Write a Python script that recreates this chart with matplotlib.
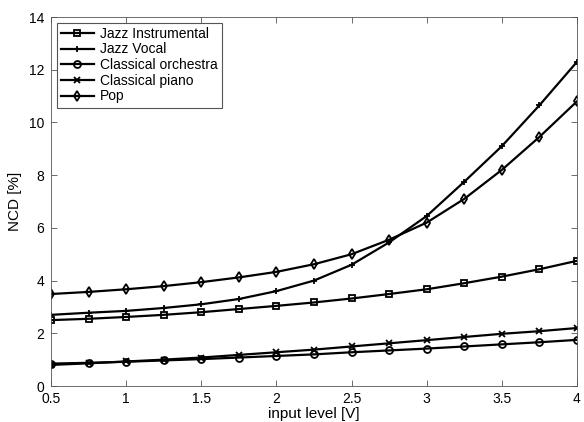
import matplotlib.pyplot as plt
import numpy as np

plt.rcParams['font.family'] = ['Liberation Sans', 'DejaVu Sans']

level = [0.5, 0.75, 1.0, 1.25, 1.5, 1.75, 2.0, 2.25, 2.5, 2.75, 3.0, 3.25, 3.5, 3.75, 4.0]

jazz_instr = [2.50, 2.55, 2.62, 2.70, 2.80, 2.92, 3.04, 3.17, 3.32, 3.49, 3.67, 3.90, 4.15, 4.43, 4.75]
jazz_vocal = [2.70, 2.78, 2.85, 2.96, 3.10, 3.30, 3.60, 4.00, 4.60, 5.45, 6.45, 7.75, 9.10, 10.65, 12.30]
class_orch = [0.85, 0.88, 0.92, 0.97, 1.02, 1.08, 1.14, 1.20, 1.28, 1.35, 1.42, 1.50, 1.58, 1.66, 1.75]
class_piano = [0.80, 0.86, 0.93, 1.00, 1.08, 1.18, 1.28, 1.38, 1.50, 1.62, 1.74, 1.86, 1.98, 2.08, 2.20]
pop = [3.49, 3.57, 3.67, 3.79, 3.94, 4.12, 4.33, 4.62, 5.00, 5.55, 6.20, 7.10, 8.20, 9.45, 10.80]

series = [
    ('Jazz Instrumental', jazz_instr, 's'),
    ('Jazz Vocal', jazz_vocal, '+'),
    ('Classical orchestra', class_orch, 'o'),
    ('Classical piano', class_piano, 'x'),
    ('Pop', pop, 'd'),
]

fig = plt.figure(figsize=(5.84, 4.22), dpi=100)
ax = fig.add_axes([0.0873, 0.0853, 0.9007, 0.8744])

for name, vals, m in series:
    ax.plot(level, vals, color='black', linewidth=1.6, marker=m, markersize=5,
            markerfacecolor='none', markeredgewidth=1.3, label=name)

ax.set_xlim(0.5, 4)
ax.set_ylim(0, 14)
ax.set_xticks(np.arange(0.5, 4.01, 0.5))
ax.set_xticklabels(['0.5', '1', '1.5', '2', '2.5', '3', '3.5', '4'])
ax.set_yticks(np.arange(0, 15, 2))
ax.tick_params(direction='in', top=True, right=True, labelsize=10, length=4, width=0.6, color='#555555')
ax.tick_params(axis='x', pad=4)
ax.tick_params(axis='y', pad=5)
for s in ax.spines.values():
    s.set_linewidth(0.6)
    s.set_color('#555555')

ax.set_xlabel('input level [V]', fontsize=11, labelpad=1)
ax.set_ylabel('NCD [%]', fontsize=11, labelpad=5)

leg = ax.legend(loc='upper left', fontsize=10, fancybox=False, edgecolor='#555555',
                handlelength=2.4, handletextpad=0.4, labelspacing=0.12,
                borderpad=0.3, borderaxespad=0.4, framealpha=1)
leg.get_frame().set_linewidth(0.8)

fig.savefig('out.png', dpi=100)
